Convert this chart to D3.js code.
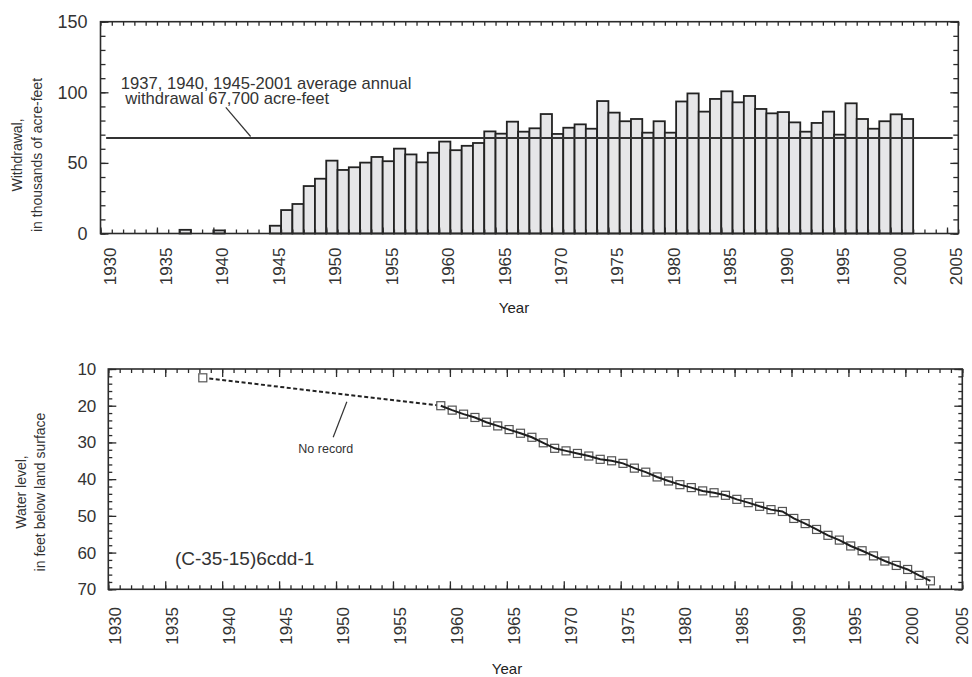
<!DOCTYPE html>
<html><head><meta charset="utf-8">
<script src="https://cdn.jsdelivr.net/npm/d3@7"></script>
<style>
body{margin:0;background:#fff;}
svg{display:block;font-family:"Liberation Sans",Arial,sans-serif;}
</style></head>
<body>
<svg id="c" width="972" height="677"></svg>
<script>
// ---------- DATA ----------
const withdrawalYears = [1937, 1940,
  1945, 1946, 1947, 1948, 1949, 1950, 1951, 1952, 1953, 1954,
  1955, 1956, 1957, 1958, 1959, 1960, 1961, 1962, 1963, 1964,
  1965, 1966, 1967, 1968, 1969, 1970, 1971, 1972, 1973, 1974,
  1975, 1976, 1977, 1978, 1979, 1980, 1981, 1982, 1983, 1984,
  1985, 1986, 1987, 1988, 1989, 1990, 1991, 1992, 1993, 1994,
  1995, 1996, 1997, 1998, 1999, 2000, 2001];
const withdrawalValues = [2.6, 2.2,
  5.5, 16.6, 20.9, 33.6, 38.8, 51.6, 45.0, 46.9, 50.2, 54.2,
  51.2, 60.1, 56.0, 50.4, 57.2, 65.1, 59.0, 62.1, 64.1, 72.3,
  70.7, 79.2, 72.1, 74.5, 84.6, 70.5, 74.9, 77.3, 74.2, 93.8,
  85.6, 79.5, 81.1, 71.4, 79.5, 71.4, 93.5, 99.2, 86.3, 95.3,
  100.7, 92.9, 97.4, 88.2, 85.1, 86.0, 78.7, 72.1, 78.3, 86.3,
  70.0, 92.2, 81.1, 74.2, 79.5, 84.4, 81.1];
const averageWithdrawal = 67.7;

const levelYears = [1938.3,
  1959.2, 1960.2, 1961.2, 1962.2, 1963.2, 1964.2, 1965.2, 1966.2, 1967.2, 1968.2,
  1969.2, 1970.2, 1971.2, 1972.2, 1973.2, 1974.2, 1975.2, 1976.2, 1977.2, 1978.2,
  1979.2, 1980.2, 1981.2, 1982.2, 1983.2, 1984.2, 1985.2, 1986.2, 1987.2, 1988.2,
  1989.2, 1990.2, 1991.2, 1992.2, 1993.2, 1994.2, 1995.2, 1996.2, 1997.2, 1998.2,
  1999.2, 2000.2, 2001.2, 2002.2];
const levelValues = [12.4,
  20.0, 21.2, 22.3, 23.2, 24.5, 25.5, 26.5, 27.5, 28.6, 30.1,
  31.6, 32.3, 33.0, 33.7, 34.6, 35.0, 35.7, 37.0, 38.1, 39.4,
  40.5, 41.5, 42.3, 43.2, 43.7, 44.4, 45.5, 46.4, 47.4, 48.3,
  48.8, 50.7, 52.1, 53.7, 55.3, 56.6, 58.2, 59.5, 60.9, 62.3,
  63.5, 64.6, 66.2, 67.7];

const yearTickLabels = [1930, 1935, 1940, 1945, 1950, 1955, 1960, 1965, 1970, 1975, 1980, 1985, 1990, 1995, 2000, 2005];
const withdrawalTickLabels = [0, 50, 100, 150];
const levelTickLabels = [10, 20, 30, 40, 50, 60, 70];

const annotationLines = ["1937, 1940, 1945-2001 average annual", "withdrawal 67,700 acre-feet"];
const wellName = "(C-35-15)6cdd-1";
const noRecordText = "No record";

// ---------- DRAWING ----------
const svg = d3.select("#c");
const ink = "#2b2b2b";
const txt = "#333";
const FONT = "Liberation Sans, Arial, sans-serif";

function styleAxis(g) {
  g.select(".domain").remove();
  g.selectAll(".tick line").attr("stroke", ink).attr("stroke-width", 1.3);
}

// ===== Top chart =====
const xT = d3.scaleLinear().domain([1930, 2006]).range([100.5, 958.3]);
const yT = d3.scaleLinear().domain([0, 150]).range([233.5, 21.7]);
const topG = svg.append("g");
const minorYearsT = d3.range(1930, 2007);
const minorT = d3.range(0, 151, 10);

topG.append("g").selectAll("rect")
  .data(withdrawalYears.map((y, i) => ({y, v: withdrawalValues[i]})))
  .join("rect")
  .attr("x", d => xT(d.y))
  .attr("width", d => xT(d.y + 1) - xT(d.y))
  .attr("y", d => yT(d.v))
  .attr("height", d => yT(0) - yT(d.v))
  .attr("fill", "#e6e6e8")
  .attr("stroke", "#222")
  .attr("stroke-width", 1.8);

topG.append("g").attr("transform", `translate(0,${yT(0)})`)
  .call(d3.axisBottom(xT).tickValues(minorYearsT).tickSize(-4).tickFormat("")).call(styleAxis);
topG.append("g").attr("transform", `translate(0,${yT(150)})`)
  .call(d3.axisTop(xT).tickValues(minorYearsT).tickSize(-4).tickFormat("")).call(styleAxis);
topG.append("g").attr("transform", `translate(${xT(1930)},0)`)
  .call(d3.axisLeft(yT).tickValues(minorT).tickSize(-5).tickFormat("")).call(styleAxis);
topG.append("g").attr("transform", `translate(${xT(2006)},0)`)
  .call(d3.axisRight(yT).tickValues(minorT).tickSize(-5).tickFormat("")).call(styleAxis);
topG.append("g").attr("transform", `translate(${xT(1930)},0)`)
  .call(d3.axisLeft(yT).tickValues(withdrawalTickLabels).tickSize(-8).tickPadding(13))
  .call(styleAxis)
  .call(g => g.selectAll("text").attr("fill", txt).attr("font-size", 18).attr("font-family", FONT));
topG.append("g").attr("transform", `translate(${xT(2006)},0)`)
  .call(d3.axisRight(yT).tickValues(withdrawalTickLabels).tickSize(-8).tickFormat("")).call(styleAxis);
const xAxT = topG.append("g").attr("transform", `translate(0,${yT(0)})`)
  .call(d3.axisBottom(xT).tickValues(yearTickLabels).tickSize(-6).tickFormat(d3.format("d")))
  .call(styleAxis);
xAxT.selectAll("text")
  .attr("transform", "rotate(-90)")
  .attr("x", -14).attr("y", 14.5).attr("dy", 0)
  .attr("text-anchor", "end")
  .attr("fill", txt).attr("font-size", 17).attr("font-family", FONT);

topG.append("rect").attr("x", xT(1930)).attr("y", yT(150))
  .attr("width", xT(2006) - xT(1930)).attr("height", yT(0) - yT(150))
  .attr("fill", "none").attr("stroke", ink).attr("stroke-width", 1.6);

topG.append("line")
  .attr("x1", xT(1930.5)).attr("x2", xT(2005.5))
  .attr("y1", yT(averageWithdrawal)).attr("y2", yT(averageWithdrawal))
  .attr("stroke", "#333").attr("stroke-width", 2);
// two-line annotation as one text block
const ann = topG.append("text").attr("font-size", 16.6).attr("fill", txt);
ann.append("tspan").attr("x", xT(1931.8)).attr("y", yT(102.6)).text(annotationLines[0]);
ann.append("tspan").attr("x", xT(1932.2)).attr("y", yT(91.4)).text(annotationLines[1]);
topG.append("line")
  .attr("x1", xT(1941.1)).attr("y1", yT(89.4))
  .attr("x2", xT(1943.3)).attr("y2", yT(averageWithdrawal + 1))
  .attr("stroke", "#333").attr("stroke-width", 1.2);

topG.append("text").attr("transform", "translate(22,155) rotate(-90)")
  .attr("text-anchor", "middle").attr("font-size", 14).attr("fill", txt).text("Withdrawal,");
topG.append("text").attr("transform", "translate(42,155) rotate(-90)")
  .attr("text-anchor", "middle").attr("font-size", 14).attr("fill", txt).text("in thousands of acre-feet");
topG.append("text").attr("x", 514).attr("y", 313)
  .attr("text-anchor", "middle").attr("font-size", 15).attr("fill", "#222").text("Year");

// ===== Bottom chart =====
const xB = d3.scaleLinear().domain([1930, 2005]).range([108.3, 962.3]);
const yB = d3.scaleLinear().domain([10, 70]).range([369, 589.3]);
const botG = svg.append("g");
const minorYearsB = d3.range(1930, 2006);
const minorLevel = d3.range(10, 71, 2);

botG.append("g").attr("transform", `translate(0,${yB(70)})`)
  .call(d3.axisBottom(xB).tickValues(minorYearsB).tickSize(-4).tickFormat("")).call(styleAxis);
botG.append("g").attr("transform", `translate(0,${yB(10)})`)
  .call(d3.axisTop(xB).tickValues(minorYearsB).tickSize(-4).tickFormat("")).call(styleAxis);
botG.append("g").attr("transform", `translate(0,${yB(10)})`)
  .call(d3.axisTop(xB).tickValues(yearTickLabels).tickSize(-8).tickFormat("")).call(styleAxis);
botG.append("g").attr("transform", `translate(${xB(1930)},0)`)
  .call(d3.axisLeft(yB).tickValues(minorLevel).tickSize(-4).tickFormat("")).call(styleAxis);
botG.append("g").attr("transform", `translate(${xB(2005)},0)`)
  .call(d3.axisRight(yB).tickValues(minorLevel).tickSize(-4).tickFormat("")).call(styleAxis);
botG.append("g").attr("transform", `translate(${xB(2005)},0)`)
  .call(d3.axisRight(yB).tickValues(levelTickLabels).tickSize(-8).tickFormat("")).call(styleAxis);
botG.append("g").attr("transform", `translate(${xB(1930)},0)`)
  .call(d3.axisLeft(yB).tickValues(levelTickLabels).tickSize(-8).tickPadding(12))
  .call(styleAxis)
  .call(g => g.selectAll("text").attr("fill", txt).attr("font-size", 17).attr("font-family", FONT));
const xAxB = botG.append("g").attr("transform", `translate(0,${yB(70)})`)
  .call(d3.axisBottom(xB).tickValues(yearTickLabels).tickSize(-8).tickFormat(d3.format("d")))
  .call(styleAxis);
xAxB.selectAll("text")
  .attr("transform", "rotate(-90)")
  .attr("x", -17.7)
  .attr("y", d => d === 2005 ? 5.5 : 12.5)   // keep the last label inside the page
  .attr("dy", 0)
  .attr("text-anchor", "end")
  .attr("fill", txt).attr("font-size", 17).attr("font-family", FONT);

botG.append("rect").attr("x", xB(1930)).attr("y", yB(10))
  .attr("width", xB(2005) - xB(1930)).attr("height", yB(70) - yB(10))
  .attr("fill", "none").attr("stroke", ink).attr("stroke-width", 1.6);

const pts = levelYears.map((y, i) => ({y, v: levelValues[i]}));
const line = d3.line().x(d => xB(d.y)).y(d => yB(d.v));
botG.append("path").datum(pts.slice(0, 2)).attr("d", line)
  .attr("fill", "none").attr("stroke", "#222").attr("stroke-width", 2)
  .attr("stroke-dasharray", "4,2.5");
botG.append("g").selectAll("rect").data(pts).join("rect")
  .attr("x", d => xB(d.y) - 4).attr("y", d => yB(d.v) - 4)
  .attr("width", 8).attr("height", 8)
  .attr("fill", "#fff").attr("stroke", "#555").attr("stroke-width", 1.2);
botG.append("path").datum(pts.slice(1)).attr("d", line)
  .attr("fill", "none").attr("stroke", "#1e1e1e").attr("stroke-width", 2);

botG.append("line")
  .attr("x1", xB(1950.95)).attr("y1", yB(18.9))
  .attr("x2", xB(1949.75)).attr("y2", yB(28.6))
  .attr("stroke", "#333").attr("stroke-width", 1.2);
botG.append("text").attr("x", xB(1949.1)).attr("y", yB(33.0))
  .attr("text-anchor", "middle").attr("font-size", 12.5).attr("fill", txt).text(noRecordText);
botG.append("text").attr("x", xB(1935.85)).attr("y", yB(63.4))
  .attr("font-size", 19).attr("fill", txt).text(wellName);

botG.append("text").attr("transform", "translate(26,492) rotate(-90)")
  .attr("text-anchor", "middle").attr("font-size", 14).attr("fill", txt).text("Water level,");
botG.append("text").attr("transform", "translate(45,492) rotate(-90)")
  .attr("text-anchor", "middle").attr("font-size", 14).attr("fill", txt).text("in feet below land surface");
botG.append("text").attr("x", 507).attr("y", 674)
  .attr("text-anchor", "middle").attr("font-size", 15).attr("fill", "#222").text("Year");
</script>
</body></html>
